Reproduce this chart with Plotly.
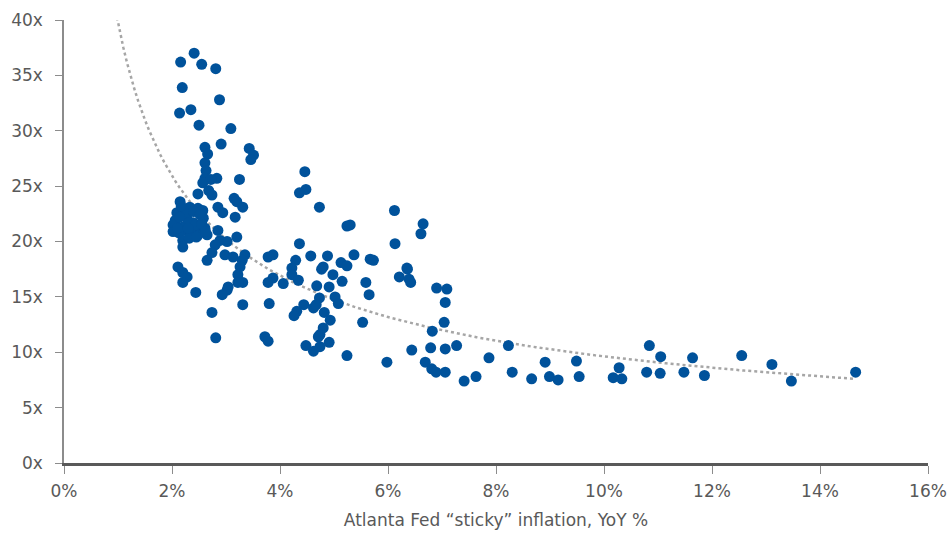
import numpy as np
import plotly.graph_objects as go

# Atlanta Fed "sticky" inflation, YoY % (x) vs P/E multiple (y)
sticky_inflation = [
    2.41, 2.16, 2.55, 2.81, 2.19, 2.88, 2.14, 2.35, 2.50, 3.09,
    2.91, 2.61, 2.66, 3.43, 3.51, 3.46, 2.61, 2.63, 2.83, 3.25,
    2.61, 2.72, 2.57, 2.48, 2.74, 2.68, 3.15, 3.20, 3.31, 2.15,
    2.33, 2.48, 2.57, 2.85, 2.94, 3.17, 2.09, 2.06, 2.02, 2.02,
    2.20, 2.39, 2.39, 2.52, 2.61, 2.85, 2.65, 2.20, 3.20, 2.89,
    3.02, 2.80, 2.20, 2.74, 2.98, 3.13, 3.35, 2.65, 3.30, 3.78,
    3.87, 2.11, 3.26, 2.20, 2.28, 3.22, 3.31, 3.22, 2.20, 3.87,
    3.78, 3.04, 3.02, 2.44, 2.93, 3.31, 3.80, 2.74, 2.81, 3.72,
    3.78, 4.06, 2.27, 2.58, 2.30, 2.44, 2.22, 2.35, 2.47, 2.12,
    2.32, 2.45, 2.55, 2.62, 2.25, 2.40, 2.10, 2.14, 2.52, 2.30,
    2.17,
    4.46, 4.48, 4.36, 4.73, 6.12, 5.24, 5.30, 6.13, 4.36, 4.29,
    4.57, 4.88, 5.37, 5.13, 5.24, 5.67, 5.73, 4.80, 4.77, 4.98,
    4.22, 4.22, 4.34, 6.35, 6.21, 6.39, 6.42, 5.15, 4.68, 4.91,
    5.59, 5.65, 4.73, 5.02, 5.08, 4.44, 4.62, 4.67, 4.31, 4.26,
    4.82, 4.93, 5.53, 4.80, 4.74, 4.71, 4.48, 4.91, 4.74, 4.62,
    5.24, 5.98, 6.44,
    6.65, 6.61, 6.36, 6.90, 7.09, 7.06, 7.04, 6.82, 6.79, 7.06,
    7.27, 6.69, 6.81, 6.89, 7.06, 7.41, 7.63, 7.87, 8.23, 8.30,
    8.66, 8.91, 8.99, 9.15, 9.49, 9.54, 10.17, 10.33, 10.28, 10.84,
    10.79, 11.05, 11.04, 11.48, 11.64, 11.86, 12.55, 13.11, 13.47, 14.66,
]
pe_multiple = [
    37.0, 36.2, 36.0, 35.6, 33.9, 32.8, 31.6, 31.9, 30.5, 30.2,
    28.8, 28.5, 27.9, 28.4, 27.8, 27.4, 27.1, 26.4, 25.7, 25.6,
    25.7, 25.6, 25.3, 24.3, 24.2, 24.6, 23.9, 23.6, 23.1, 23.6,
    23.1, 23.0, 22.8, 23.1, 22.6, 22.2, 22.6, 21.9, 21.5, 20.9,
    21.3, 21.7, 20.9, 20.8, 21.2, 21.0, 20.6, 20.1, 20.4, 20.1,
    20.0, 19.7, 19.5, 19.0, 18.8, 18.6, 18.8, 18.3, 18.3, 18.6,
    18.8, 17.7, 17.7, 17.2, 16.8, 17.0, 16.3, 16.3, 16.3, 16.7,
    16.3, 15.9, 15.6, 15.4, 15.2, 14.3, 14.4, 13.6, 11.3, 11.4,
    11.0, 16.2, 22.2, 22.1, 21.8, 21.5, 21.0, 20.7, 20.5, 20.8,
    20.3, 20.4, 21.6, 20.9, 22.6, 22.7, 21.2, 22.2, 22.4, 21.2,
    23.2,
    26.3, 24.7, 24.4, 23.1, 22.8, 21.4, 21.5, 19.8, 19.8, 18.3,
    18.7, 18.7, 18.8, 18.1, 17.8, 18.4, 18.3, 17.7, 17.5, 17.0,
    17.6, 17.0, 16.5, 17.6, 16.8, 16.6, 16.3, 16.4, 16.0, 15.9,
    16.3, 15.2, 14.9, 15.0, 14.4, 14.3, 14.0, 14.3, 13.7, 13.3,
    13.6, 12.9, 12.7, 12.2, 11.6, 11.4, 10.6, 10.9, 10.5, 10.1,
    9.7, 9.1, 10.2,
    21.6, 20.7, 17.5, 15.8, 15.7, 14.5, 12.7, 11.9, 10.4, 10.3,
    10.6, 9.1, 8.5, 8.2, 8.2, 7.4, 7.8, 9.5, 10.6, 8.2,
    7.6, 9.1, 7.8, 7.5, 9.2, 7.8, 7.7, 7.6, 8.6, 10.6,
    8.2, 9.6, 8.1, 8.2, 9.5, 7.9, 9.7, 8.9, 7.4, 8.2,
]

x_ticks = [0, 2, 4, 6, 8, 10, 12, 14, 16]
x_tick_labels = ["0%", "2%", "4%", "6%", "8%", "10%", "12%", "14%", "16%"]
y_ticks = [0, 5, 10, 15, 20, 25, 30, 35, 40]
y_tick_labels = ["0x", "5x", "10x", "15x", "20x", "25x", "30x", "35x", "40x"]

# Power trendline (least squares in log-log space, as a spreadsheet power trendline)
xa = np.array(sticky_inflation)
ya = np.array(pe_multiple)
b, ln_a = np.polyfit(np.log(xa), np.log(ya), 1)
trend_x = np.linspace(0.96, xa.max(), 200)
trend_y = np.exp(ln_a) * trend_x ** b

FONT = "DejaVu Sans, sans-serif"
GRAY_TXT = "#595959"

fig = go.Figure()
fig.add_trace(go.Scatter(
    x=trend_x, y=trend_y, mode="lines",
    line=dict(color="#a6a6a6", width=2.5, dash="dot"),
    hoverinfo="skip", showlegend=False,
))
fig.add_trace(go.Scatter(
    x=sticky_inflation, y=pe_multiple, mode="markers",
    marker=dict(color="#00529b", size=11, line=dict(width=0)),
    showlegend=False,
))

fig.update_layout(
    width=949, height=533,
    margin=dict(l=64, r=21, t=20, b=70),
    paper_bgcolor="white", plot_bgcolor="white",
    font=dict(family=FONT, color=GRAY_TXT, size=17),
    xaxis=dict(
        range=[0, 16], tickvals=x_ticks, ticktext=x_tick_labels,
        showgrid=False, zeroline=False, automargin=False,
        showline=True, linecolor="#595959", linewidth=2.5,
        ticks="outside", ticklen=8, tickcolor="#8c8c8c", tickwidth=1,
        ticklabelstandoff=3, ticklabeloverflow="allow",
        tickfont=dict(size=17, color=GRAY_TXT, family=FONT),
        title=dict(text="Atlanta Fed “sticky” inflation, YoY %",
                   font=dict(size=17, color=GRAY_TXT, family=FONT), standoff=14),
    ),
    yaxis=dict(
        range=[0, 40], tickvals=y_ticks, ticktext=y_tick_labels,
        showgrid=False, zeroline=False, automargin=False,
        showline=True, linecolor="#8c8c8c", linewidth=1.5,
        ticks="outside", ticklen=7, tickcolor="#8c8c8c", tickwidth=1,
        ticklabelstandoff=9,
        tickfont=dict(size=17, color=GRAY_TXT, family=FONT),
    ),
)

fig.write_html(
    "out.html",
    config={"displayModeBar": False},
    post_script="document.body.style.margin='0';document.body.style.overflow='hidden';",
)
